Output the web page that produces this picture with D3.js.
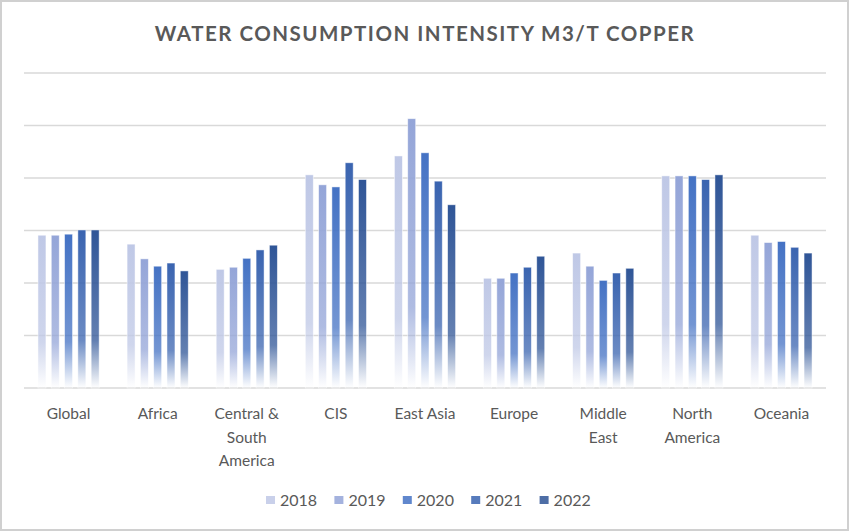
<!DOCTYPE html>
<html>
<head>
<meta charset="utf-8">
<script src="https://cdn.jsdelivr.net/npm/d3@7"></script>
<style>
  body { margin: 0; background: #fff; }
  svg { display: block; font-family: Lato, "Open Sans", sans-serif; }
</style>
</head>
<body>
<div id="viz"></div>
<script>
const categories = ["Global", "Africa", "Central & South America", "CIS", "East Asia", "Europe", "Middle East", "North America", "Oceania"];
const categoryLines = [["Global"], ["Africa"], ["Central &", "South", "America"], ["CIS"], ["East Asia"], ["Europe"], ["Middle", "East"], ["North", "America"], ["Oceania"]];
const years = ["2018", "2019", "2020", "2021", "2022"];
const colors = ["#bfc8e6", "#94a5d8", "#4472c4", "#3a64b0", "#2f5597"];

// values, one array per year
const v2018 = [29.1, 27.4, 22.6, 40.6, 44.2, 20.9, 25.7, 40.4, 29.1];
const v2019 = [29.1, 24.6, 23.0, 38.7, 51.3, 20.9, 23.2, 40.4, 27.7];
const v2020 = [29.3, 23.2, 24.7, 38.3, 44.8, 21.9, 20.5, 40.4, 27.9];
const v2021 = [30.1, 23.8, 26.3, 42.9, 39.4, 23.0, 21.9, 39.7, 26.8];
const v2022 = [30.1, 22.3, 27.2, 39.7, 34.9, 25.1, 22.8, 40.6, 25.7];
const series = [v2018, v2019, v2020, v2021, v2022];
const gridTicks = [0, 10, 20, 30, 40, 50, 60];

const width = 850, height = 532;
const svg = d3.select("#viz").append("svg")
  .attr("width", width)
  .attr("height", height);

// chart border
svg.append("rect")
  .attr("x", 1).attr("y", 1)
  .attr("width", width - 3).attr("height", height - 3)
  .attr("fill", "#fff")
  .attr("stroke", "#d0d0d0")
  .attr("stroke-width", 2);

// gradient per year, fading to white at the bottom of each bar
const defs = svg.append("defs");
years.forEach((yr, i) => {
  const g = defs.append("linearGradient")
    .attr("id", "grad" + yr)
    .attr("x1", 0).attr("y1", 0).attr("x2", 0).attr("y2", 1);
  g.append("stop").attr("offset", "0%").attr("stop-color", colors[i]).attr("stop-opacity", 1);
  g.append("stop").attr("offset", "70%").attr("stop-color", colors[i]).attr("stop-opacity", 0.75);
  g.append("stop").attr("offset", "100%").attr("stop-color", colors[i]).attr("stop-opacity", 0);
});

const x0 = d3.scaleBand()
  .domain(categories)
  .range([24, 826]);

const x1 = d3.scaleBand()
  .domain(years)
  .range([0, x0.bandwidth()])
  .paddingInner(0.4)
  .paddingOuter(1.05);

const y = d3.scaleLinear()
  .domain([0, 60])
  .range([388, 73]);

// gridlines
svg.append("g")
  .selectAll("line")
  .data(gridTicks)
  .join("line")
  .attr("x1", 24).attr("x2", 826)
  .attr("y1", d => y(d)).attr("y2", d => y(d))
  .attr("stroke", "#d9d9d9")
  .attr("stroke-width", 1.5);

// bars
const groups = svg.append("g")
  .selectAll("g")
  .data(categories)
  .join("g")
  .attr("transform", d => `translate(${x0(d)},0)`);

groups.selectAll("rect")
  .data((d, ci) => years.map((yr, si) => ({ yr, value: series[si][ci] })))
  .join("rect")
  .attr("x", d => x1(d.yr))
  .attr("y", d => y(d.value))
  .attr("width", x1.bandwidth())
  .attr("height", d => y(0) - y(d.value))
  .attr("fill", d => `url(#grad${d.yr})`)
  .attr("stroke", "#ffffff")
  .attr("stroke-opacity", 0.6)
  .attr("stroke-width", 0.8);

// category labels
const labels = svg.append("g")
  .selectAll("text")
  .data(categories)
  .join("text")
  .attr("x", d => x0(d) + x0.bandwidth() / 2)
  .attr("y", 419)
  .attr("text-anchor", "middle")
  .attr("fill", "#595959")
  .style("font-size", "15.5px");

labels.selectAll("tspan")
  .data((d, i) => categoryLines[i])
  .join("tspan")
  .attr("x", function () { return d3.select(this.parentNode).attr("x"); })
  .attr("dy", (d, i) => i === 0 ? 0 : 23.5)
  .text(d => d);

// title
svg.append("text")
  .attr("x", 425)
  .attr("y", 41)
  .attr("text-anchor", "middle")
  .attr("fill", "#595959")
  .style("font-size", "20.5px")
  .style("font-weight", "bold")
  .style("letter-spacing", "1.5px")
  .text("WATER CONSUMPTION INTENSITY M3/T COPPER");

// legend
const legendX = d3.scaleBand()
  .domain(years)
  .range([266, 608]);

const legend = svg.append("g")
  .selectAll("g")
  .data(years)
  .join("g")
  .attr("transform", d => `translate(${legendX(d)},0)`);

legend.append("rect")
  .attr("x", 0).attr("y", 496)
  .attr("width", 9).attr("height", 8)
  .attr("fill", (d, i) => colors[i])
  .attr("fill-opacity", 0.85);

legend.append("text")
  .attr("x", 14)
  .attr("y", 505.5)
  .attr("fill", "#595959")
  .style("font-size", "16px")
  .text(d => d);
</script>
</body>
</html>
